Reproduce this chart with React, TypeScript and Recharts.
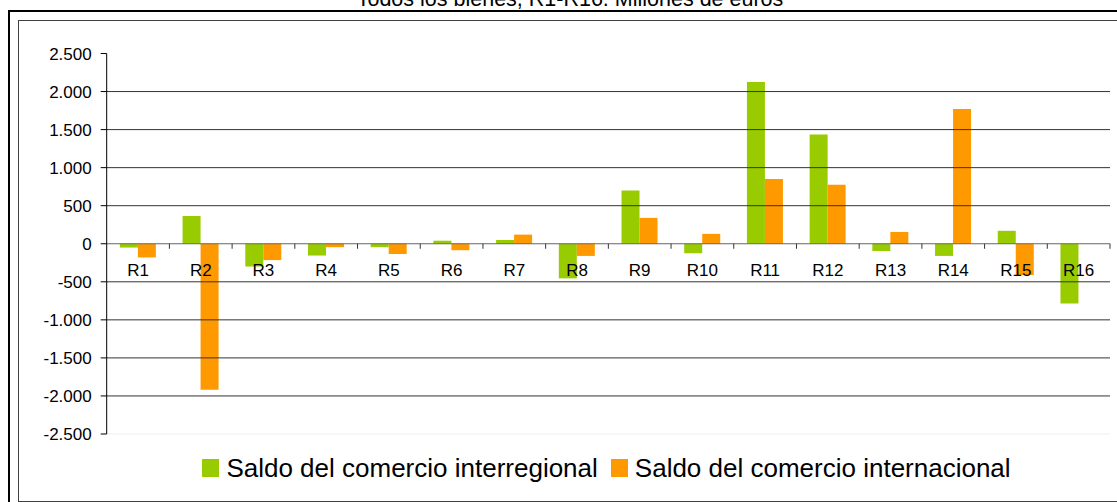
import React from "react";
import { BarChart, Bar, XAxis, YAxis, ReferenceLine } from "recharts";

const regions = ["R1", "R2", "R3", "R4", "R5", "R6", "R7", "R8", "R9", "R10", "R11", "R12", "R13", "R14", "R15", "R16"];
const interregional = [-50, 365, -300, -155, -45, 40, 50, -455, 700, -125, 2125, 1435, -95, -160, 170, -785];
const internacional = [-180, -1920, -215, -45, -135, -85, 120, -160, 340, 130, 850, 775, 155, 1770, -410, 0];
const yTicks = [-2500, -2000, -1500, -1000, -500, 0, 500, 1000, 1500, 2000, 2500];
const gridValues = [-2000, -1500, -1000, -500, 500, 1000, 1500, 2000];

const seriesNames = ["Saldo del comercio interregional", "Saldo del comercio internacional"];
const seriesColors = ["#99CC00", "#FF9900"];

const FONT = "Arial, 'Liberation Sans', sans-serif";
const W = 1117;
const H = 502;
const MARGIN = { top: 53.5, right: 7, bottom: 38, left: 16.7 };
const Y_AXIS_W = 90;
const X_AXIS_H = 30;
const PLOT_W = W - MARGIN.left - MARGIN.right - Y_AXIS_W;
const PLOT_H = H - MARGIN.top - MARGIN.bottom - X_AXIS_H;
const ZERO_Y = MARGIN.top + PLOT_H / 2; // domain is symmetric
const BAND = PLOT_W / regions.length;

const data = regions.map((r, i) => ({
  region: r,
  inter: interregional[i],
  intl: internacional[i],
}));

const fmt = (v: number) => {
  const s = Math.abs(v).toString().replace(/\B(?=(\d{3})+(?!\d))/g, ".");
  return v < 0 ? "-" + s : s;
};

const CategoryTick = (props: any) => {
  const { x, payload } = props;
  return (
    <g>
      <line x1={x + BAND / 2} x2={x + BAND / 2} y1={ZERO_Y} y2={ZERO_Y + 5} stroke="#333" />
      <text x={x} y={ZERO_Y + 32} textAnchor="middle" fontSize={17} fontFamily={FONT} fill="#000">
        {payload.value}
      </text>
    </g>
  );
};

export default function App() {
  return (
    <div style={{ position: "absolute", left: 0, top: 0, width: W, height: H, overflow: "hidden", background: "#fff" }}>
      <div style={{ position: "absolute", left: 0, top: -11, width: 1140, fontFamily: FONT, fontSize: 21.5, lineHeight: "21.5px" }}>
        <span style={{ position: "absolute", left: 570, transform: "translateX(-50%)", whiteSpace: "nowrap" }}>
          Todos los bienes, R1-R16. Millones de euros
        </span>
      </div>
      <div
        style={{
          position: "absolute",
          left: 8,
          top: 10,
          width: 1130,
          height: 520,
          borderLeft: "2px solid #000",
          borderTop: "2px solid #000",
        }}
      />
      <div
        style={{
          position: "absolute",
          left: 18,
          top: 20,
          width: 1130,
          height: 480,
          border: "1px solid #404040",
        }}
      />
      <div style={{ position: "absolute", left: 0, top: 0 }}>
        <BarChart width={W} height={H} data={data} margin={MARGIN} barCategoryGap="21%" barGap={0}>
          {gridValues.map((v) => (
            <ReferenceLine key={v} y={v} stroke="#333" strokeWidth={1} />
          ))}
          <ReferenceLine y={-2500} stroke="#eeeeee" strokeWidth={1} />
          <YAxis
            width={Y_AXIS_W}
            domain={[-2500, 2500]}
            ticks={yTicks}
            tickFormatter={fmt}
            axisLine={{ stroke: "#000" }}
            tickLine={{ stroke: "#000" }}
            tickSize={6}
            tickMargin={9}
            tick={{ fontSize: 17, fontFamily: FONT, fill: "#000" }}
            interval={0}
          />
          <Bar dataKey="inter" name={seriesNames[0]} fill={seriesColors[0]} isAnimationActive={false} />
          <Bar dataKey="intl" name={seriesNames[1]} fill={seriesColors[1]} isAnimationActive={false} />
          <ReferenceLine y={0} stroke="#666" strokeWidth={1} />
          <XAxis
            dataKey="region"
            height={X_AXIS_H}
            axisLine={false}
            tickLine={false}
            tick={<CategoryTick />}
            interval={0}
          />
        </BarChart>
      </div>
      <div
        style={{
          position: "absolute",
          left: 0,
          top: 455,
          width: 1213,
          display: "flex",
          justifyContent: "center",
          alignItems: "center",
          fontFamily: FONT,
          fontSize: 26,
          lineHeight: "26px",
          color: "#000",
        }}
      >
        {seriesNames.map((n, i) => (
          <div key={n} style={{ display: "flex", alignItems: "center", marginRight: i === 0 ? 13 : 0 }}>
            <span style={{ display: "inline-block", width: 17, height: 18, background: seriesColors[i], marginRight: 7 }} />
            <span style={{ whiteSpace: "nowrap" }}>{n}</span>
          </div>
        ))}
      </div>
    </div>
  );
}
